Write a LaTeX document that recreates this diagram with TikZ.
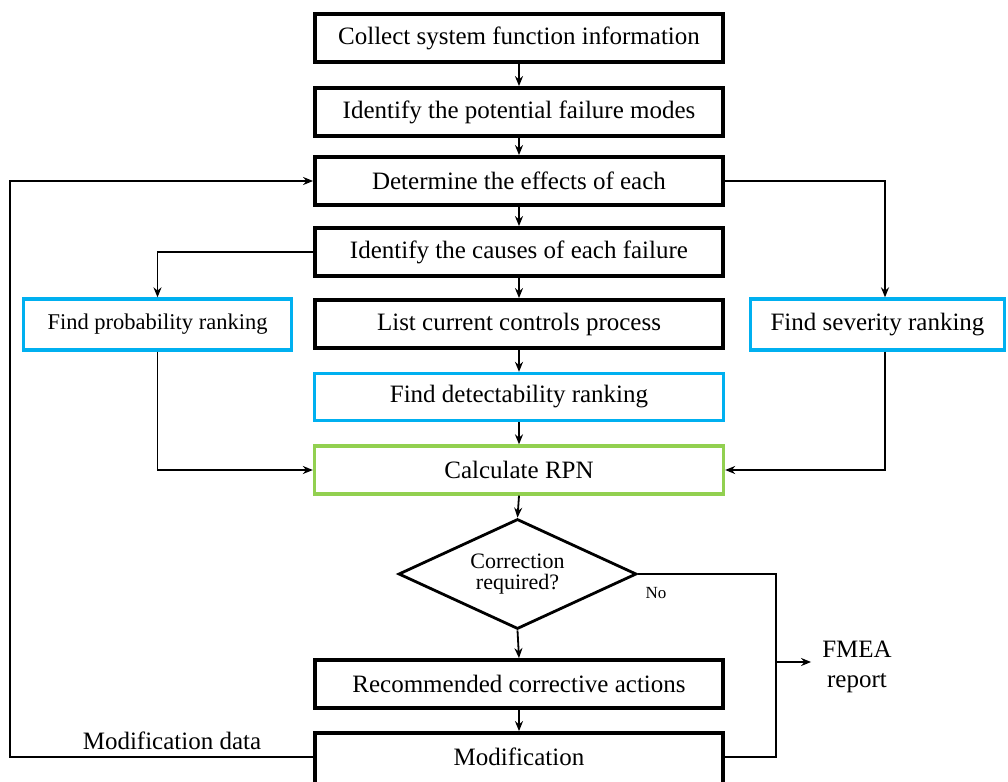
\documentclass[tikz,border=0pt]{standalone}
\usepackage{fontspec}
\setmainfont{Liberation Serif}
\usetikzlibrary{shapes.geometric,arrows.meta}
\definecolor{boxblue}{HTML}{00B0F0}
\definecolor{boxgreen}{HTML}{92D050}
\begin{document}
\begin{tikzpicture}[x=1pt,y=-1pt,
  mainbox/.style={draw=black,line width=3.8pt,minimum width=408pt,minimum height=48pt,inner sep=0pt,font=\fontsize{25}{30}\selectfont},
  bluebox/.style={draw=boxblue,line width=3.3pt,minimum height=51pt,inner sep=0pt,font=\fontsize{25}{30}\selectfont},
  greenbox/.style={draw=boxgreen,line width=3.3pt,minimum width=409pt,minimum height=48pt,inner sep=0pt,font=\fontsize{25}{30}\selectfont},
  decision/.style={draw=black,shape=diamond,line width=2.8pt,minimum width=238pt,minimum height=110pt,aspect=2.13,inner sep=0pt,align=center,font=\fontsize{22}{21}\selectfont},
  conn/.style={draw=black,line width=1.8pt},
  arr/.style={conn,-{Stealth[length=10pt,width=8pt]}},
  lbl/.style={inner sep=0pt,font=\fontsize{25}{30}\selectfont}
]
\useasboundingbox (0,0) rectangle (1008,781);
\clip (0,0) rectangle (1008,781);

\node[mainbox] (col) at (519,38) {Collect system function information};
\node[mainbox] (ide) at (519,112) {Identify the potential failure modes};
\node[mainbox] (det) at (519,181) {Determine the effects of each};
\node[mainbox] (cau) at (519,252) {Identify the causes of each failure};
\node[mainbox] (lis) at (519,324) {List current controls process};
\node[bluebox,minimum width=409pt,minimum height=47pt] (dtc) at (519,397) {Find detectability ranking};
\node[greenbox] (rpn) at (519,470) {Calculate RPN};
\node[bluebox,minimum width=268pt,font=\fontsize{22.5}{27}\selectfont] (prob) at (157.5,324.5) {Find probability ranking};
\node[bluebox,minimum width=254pt] (sev) at (877.5,324.5) {Find severity ranking};
\node[decision] (dia) at (517.5,574) {Correction\\required?};
\node[mainbox] (rec) at (519,684) {Recommended corrective actions};
\node[mainbox,minimum height=64pt] (mod) at (519,765) {\raisebox{16pt}{Modification}};

\node[inner sep=0pt,font=\fontsize{17}{19}\selectfont] (no) at (656,593) {No};
\node[lbl,align=center,inner xsep=11pt] (fmea) at (857,667) {FMEA\\report};
\node[lbl] (mdata) at (172,741) {Modification data};

\coordinate (lx) at (10,0);
\coordinate (rx) at (885,0);
\coordinate (fx) at (776,0);
\coordinate (br) at (776,662);
\coordinate (mw) at ([yshift=8pt]mod.west);
\coordinate (me) at ([yshift=8pt]mod.east);

\draw[arr] (col.south) -- (ide.north);
\draw[arr] (ide.south) -- (det.north);
\draw[arr] (det.south) -- (cau.north);
\draw[arr] (cau.south) -- (lis.north);
\draw[arr] (lis.south) -- (dtc.north);
\draw[arr] (dtc.south) -- (rpn.north);
\draw[arr] (rpn.south) -- (dia.north);
\draw[arr] (dia.south) -- (rec.north);
\draw[arr] (rec.south) -- (mod.north);

\draw[arr] (mw) -- (mw -| lx) |- (det.west);
\draw[arr] (det.east) -| (rx |- sev.north);
\draw[arr] (cau.west) -| (prob.north);
\draw[arr] (prob.south) |- (rpn.west);
\draw[arr] (rx |- sev.south) |- (rpn.east);
\draw[conn] (dia.east) -| (fx |- me) -- (me);
\draw[arr] (br) -- (fmea.west |- br);
\end{tikzpicture}
\end{document}
